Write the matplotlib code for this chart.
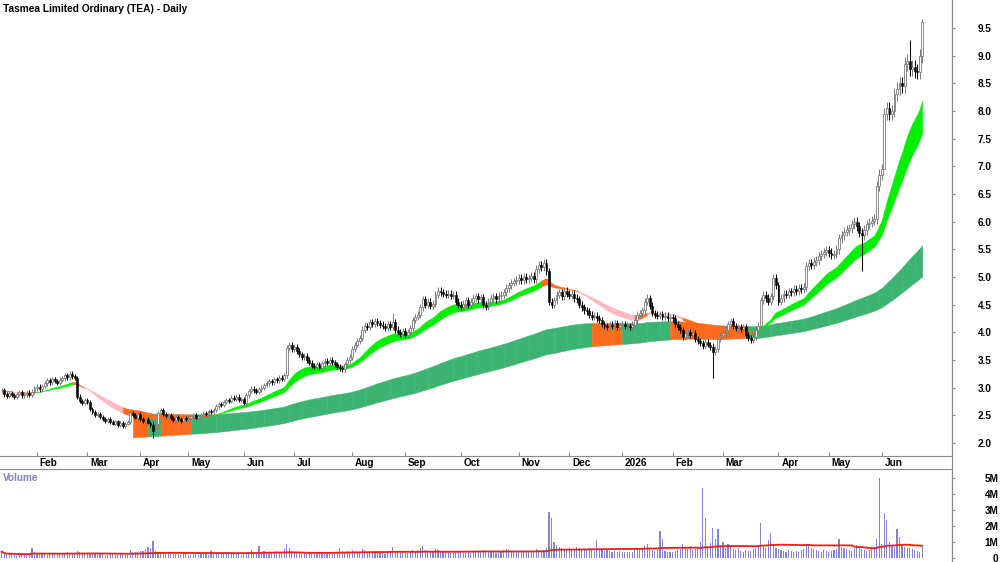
import numpy as np
import pandas as pd
import matplotlib
matplotlib.use('Agg')
import matplotlib.pyplot as plt
from matplotlib.lines import Line2D
from matplotlib.transforms import offset_copy, blended_transform_factory

plt.rcParams['font.family'] = ['Liberation Sans', 'DejaVu Sans']

TITLE = 'Tasmea Limited Ordinary (TEA) - Daily'

# daily closes, 13 Jan 2025 .. 24 Jun 2026
closes = [
    2.95, 2.88, 2.85, 2.90, 2.87, 2.84, 2.89, 2.92, 2.86, 2.88, 2.91, 2.87,
    2.93, 2.99, 3.02, 2.97, 3.03,
    3.08, 3.13, 3.10, 3.15, 3.12, 3.09, 3.14, 3.17,
    3.22, 3.19, 3.25, 3.21, 3.18,
    2.84, 2.76, 2.72, 2.78, 2.74,
    2.62, 2.56, 2.50, 2.53, 2.47,
    2.44, 2.40, 2.43, 2.38, 2.35, 2.39, 2.33, 2.36, 2.31, 2.35, 2.38,
    2.55, 2.50, 2.46, 2.52, 2.44,
    2.40, 2.43, 2.37, 2.33, 2.22,
    2.35, 2.55, 2.60, 2.52, 2.48, 2.50,
    2.45, 2.42, 2.47, 2.44, 2.40, 2.46, 2.43, 2.45,
    2.48, 2.50, 2.46, 2.49, 2.51,
    2.55, 2.53, 2.58, 2.56, 2.60,
    2.66, 2.70, 2.68, 2.74, 2.78, 2.76, 2.82,
    2.80, 2.84, 2.78, 2.80, 2.73,
    2.86, 2.94, 2.98, 2.95, 2.92, 2.97, 3.00, 3.05,
    3.08, 3.12, 3.10, 3.15, 3.13, 3.18, 3.16, 3.22,
    3.72, 3.78, 3.70, 3.74, 3.66,
    3.60, 3.55, 3.58, 3.50,
    3.45, 3.40, 3.38, 3.42, 3.36,
    3.44, 3.48, 3.45, 3.50, 3.46, 3.42, 3.38,
    3.35, 3.33, 3.42, 3.50, 3.55,
    3.70, 3.78, 3.85, 3.90,
    4.05, 4.12, 4.10, 4.18, 4.15, 4.20, 4.17, 4.14,
    4.12, 4.08, 4.15, 4.10, 4.18,
    4.05, 4.00, 3.97, 4.02, 3.96, 4.00, 4.08,
    4.22, 4.28, 4.32, 4.45, 4.60, 4.50, 4.55,
    4.48, 4.52, 4.68, 4.75, 4.72, 4.70,
    4.68, 4.70, 4.66, 4.68, 4.55, 4.50, 4.46, 4.52,
    4.58, 4.50, 4.55, 4.62, 4.65, 4.60, 4.63,
    4.50, 4.46, 4.55, 4.62, 4.65, 4.60, 4.66, 4.68, 4.72,
    4.80, 4.85, 4.90, 4.92, 4.95,
    4.98, 4.95, 5.00, 4.96, 4.98, 5.02, 4.97,
    5.15, 5.22, 5.18, 5.25, 5.10,
    4.55, 4.50, 4.58,
    4.68, 4.72, 4.65, 4.75, 4.70, 4.66, 4.70, 4.62, 4.60,
    4.50, 4.45, 4.40, 4.38, 4.32, 4.28, 4.30, 4.25, 4.22,
    4.15, 4.12, 4.10, 4.14, 4.12, 4.16, 4.10, 4.13, 4.15, 4.11, 4.12, 4.10, 4.14,
    4.22, 4.32, 4.35, 4.40, 4.55, 4.62, 4.48,
    4.35, 4.32, 4.30, 4.33, 4.28, 4.30, 4.26, 4.28, 4.25,
    4.15, 4.10, 4.05, 3.92, 3.98, 4.00, 3.95, 3.98, 3.88, 3.85,
    3.80, 3.76, 3.82, 3.78, 3.74, 3.65, 3.70,
    3.88, 3.95, 3.98, 4.05, 4.15, 4.20, 4.12,
    4.08, 4.10, 4.06, 4.09, 3.95, 3.90, 3.87, 3.92, 4.05, 4.12,
    4.58, 4.68, 4.62, 4.55, 4.65, 4.98, 4.85, 4.55,
    4.62, 4.70, 4.68, 4.74, 4.72, 4.78, 4.75, 4.80, 4.78, 4.82,
    5.20, 5.25, 5.22, 5.28, 5.30, 5.38, 5.42,
    5.45, 5.48, 5.44, 5.40, 5.42, 5.50,
    5.70, 5.75, 5.82, 5.85, 5.88, 5.95, 6.00, 5.92,
    5.80, 5.75, 5.85, 5.95, 5.98, 6.02, 6.05,
    6.65, 6.85, 6.95, 7.95, 8.05, 7.95, 8.00,
    8.30, 8.40, 8.50, 8.45, 8.85, 8.90, 8.75,
    8.80, 8.72, 8.70, 9.00, 9.60,
]

# daily volume in millions of shares
volumes = [
    0.40, 0.22, 0.18, 0.30, 0.25, 0.20, 0.15, 0.28, 0.22, 0.18,
    0.25, 0.30, 0.62, 0.35, 0.28, 0.22, 0.30, 0.25, 0.20, 0.33,
    0.27, 0.24, 0.30, 0.22, 0.26, 0.31, 0.35, 0.28, 0.24, 0.30,
    0.45, 0.38, 0.30, 0.28, 0.25, 0.32, 0.28, 0.22, 0.20, 0.26,
    0.24, 0.20, 0.18, 0.22, 0.25, 0.20, 0.18, 0.22, 0.26, 0.20,
    0.24, 0.50, 0.40, 0.35, 0.38, 0.45, 0.42, 0.55, 0.70, 0.60,
    1.05, 0.45, 0.40, 0.35, 0.30, 0.28, 0.32, 0.30, 0.25, 0.22,
    0.28, 0.20, 0.25, 0.22, 0.18, 0.20, 0.24, 0.22, 0.18, 0.25,
    0.30, 0.22, 0.20, 0.42, 0.25, 0.22, 0.30, 0.26, 0.24, 0.35,
    0.28, 0.25, 0.30, 0.22, 0.26, 0.20, 0.28, 0.30, 0.35, 0.50,
    0.32, 0.26, 0.75, 0.38, 0.45, 0.40, 0.35, 0.30, 0.38, 0.42,
    0.35, 0.32, 0.55, 0.85, 0.60, 0.45, 0.40, 0.35, 0.30, 0.28,
    0.32, 0.25, 0.30, 0.28, 0.22, 0.25, 0.30, 0.28, 0.26, 0.24,
    0.30, 0.35, 0.28, 0.32, 0.65, 0.45, 0.38, 0.42, 0.35, 0.50,
    0.45, 0.40, 0.38, 0.55, 0.48, 0.35, 0.30, 0.42, 0.38, 0.32,
    0.30, 0.35, 0.28, 0.40, 0.36, 0.70, 0.45, 0.40, 0.35, 0.38,
    0.32, 0.30, 0.36, 0.50, 0.45, 0.48, 0.62, 0.75, 0.50, 0.45,
    0.40, 0.38, 0.55, 0.48, 0.42, 0.36, 0.35, 0.30, 0.34, 0.32,
    0.38, 0.42, 0.35, 0.30, 0.33, 0.36, 0.30, 0.40, 0.45, 0.38,
    0.35, 0.48, 0.42, 0.38, 0.40, 0.35, 0.32, 0.38, 0.42, 0.50,
    0.55, 0.48, 0.45, 0.40, 0.38, 0.42, 0.36, 0.40, 0.35, 0.38,
    0.42, 0.40, 0.55, 0.50, 0.45, 0.52, 0.60, 2.90, 2.50, 1.00,
    0.80, 0.70, 0.60, 0.55, 0.50, 0.60, 0.50, 0.55, 0.70, 0.60,
    0.50, 0.55, 0.48, 0.60, 0.52, 0.45, 1.10, 0.55, 0.50, 0.45,
    0.48, 0.42, 0.40, 0.45, 0.38, 0.42, 0.35, 0.40, 0.38, 0.36,
    0.40, 0.55, 0.60, 0.50, 0.58, 0.75, 0.90, 0.55, 0.48, 0.45,
    0.50, 1.70, 1.20, 0.45, 0.40, 0.38, 0.35, 0.42, 0.50, 0.55,
    0.85, 0.60, 0.55, 0.75, 0.50, 0.55, 0.60, 1.00, 4.40, 2.50,
    0.70, 0.95, 1.90, 1.20, 1.80, 0.70, 1.00, 0.60, 0.90, 0.80,
    0.55, 0.50, 0.60, 0.45, 0.40, 0.50, 0.45, 0.42, 0.55, 0.60,
    0.75, 2.20, 0.80, 0.65, 1.10, 1.55, 0.85, 0.60, 0.55, 0.50,
    0.45, 0.40, 0.48, 0.42, 0.38, 0.45, 0.40, 0.50, 0.55, 0.80,
    0.80, 0.60, 0.55, 0.50, 0.45, 0.40, 0.48, 0.42, 0.38, 0.45,
    0.50, 0.55, 1.20, 0.70, 0.60, 0.55, 0.50, 0.45, 0.60, 0.80,
    0.70, 0.55, 0.50, 0.45, 0.48, 0.55, 0.60, 1.20, 5.00, 0.90,
    2.80, 2.40, 1.00, 0.80, 0.70, 1.80, 1.30, 0.80, 0.70, 0.65,
    0.60, 0.55, 0.50, 0.45, 0.40, 0.70,
]

# long shadows that stand out on the chart: bar index -> (high, low)
wick_overrides = {60: (2.40, 2.09), 155: (4.35, None), 216: (5.33, None),
                  282: (3.80, 3.17), 341: (None, 5.10), 350: (None, 7.30),
                  360: (9.28, None), 365: (9.66, None)}

# ASX holidays inside the window
holidays = ['2025-01-27', '2025-04-18', '2025-04-21', '2025-04-25', '2025-06-09',
            '2025-12-25', '2025-12-26', '2026-01-01', '2026-01-26', '2026-04-03',
            '2026-04-06', '2026-06-08']

# EMA ribbons: short pair from the first bar, long pair picks up where it first shows
short_spans = (20, 32)
long_spans = (140, 220)
long_first_values = (2.55, 2.10)
long_first_bar = 52

months = ['Feb', 'Mar', 'Apr', 'May', 'Jun', 'Jul', 'Aug', 'Sep', 'Oct', 'Nov', 'Dec',
          '2026', 'Feb', 'Mar', 'Apr', 'May', 'Jun']

price_ticks = np.arange(2.0, 9.51, 0.5)
vol_ticks = [0, 1, 2, 3, 4, 5]
vol_labels = ['0', '1M', '2M', '3M', '4M', '5M']

GREEN = '#00ee00'
PINK = '#ffb8bf'
ORANGE = '#ff6a1c'
LONG = '#3cb371'
VOLC = '#8484d6'
AXC = '#8a8a8a'


def ema_from(values, span, start, seed):
    a = 2.0 / (span + 1)
    out = np.full(len(values), np.nan)
    out[start] = seed
    for k in range(start + 1, len(values)):
        out[k] = out[k - 1] + a * (values[k] - out[k - 1])
    return out


n = len(closes)
days = pd.bdate_range('2025-01-13', '2026-08-31')
days = days[~days.isin(pd.to_datetime(holidays))][:n]
c = np.array(closes)
o = np.r_[c[0], c[:-1]]
x = np.arange(n)
wick = 0.014 * c
hi = np.maximum(o, c) + wick
lo = np.minimum(o, c) - wick
for k, (h, l) in wick_overrides.items():
    if h is not None:
        hi[k] = h
    if l is not None:
        lo[k] = l

fast = ema_from(c, short_spans[0], 0, c[0])
slow = ema_from(c, short_spans[1], 0, c[0])
l_hi = ema_from(c, long_spans[0], long_first_bar, long_first_values[0])
l_lo = ema_from(c, long_spans[1], long_first_bar, long_first_values[1])

fig = plt.figure(figsize=(10, 5.62), dpi=100)
ax = fig.add_axes([0, 1 - 456 / 562, 0.952, 456 / 562])
axv = fig.add_axes([0, 0, 0.952, 93 / 562])

# ribbons coloured week by week (state taken at the week's last bar)
week_id = days.to_period('W-FRI')
ends = [int(x[week_id == w][-1]) for w in week_id.unique()]
prev_end = 0
prev_slow = slow[0]
for e in ends:
    seg = np.arange(prev_end, e + 1)
    has_long = e >= long_first_bar
    if has_long:
        below = c[e] < l_hi[e]
        sl = seg[seg >= long_first_bar]
        ax.fill_between(sl, l_lo[sl], l_hi[sl], facecolor=ORANGE if below else LONG,
                        edgecolor=ORANGE if below else LONG, lw=0.3, zorder=1)
    overlap = has_long and min(fast[e], slow[e]) < l_hi[e]
    gap = abs(fast[e] - slow[e]) < 0.003 * c[e]
    if overlap or gap:
        col = ORANGE
    elif fast[e] > slow[e] and slow[e] >= prev_slow:
        col = GREEN
    elif fast[e] < slow[e] and slow[e] < prev_slow:
        col = PINK
    else:
        col = ORANGE
    ax.fill_between(seg, fast[seg], slow[seg], facecolor=col, edgecolor=col,
                    lw=0.3, zorder=2)
    prev_end = e
    prev_slow = slow[e]

# candles
up = c >= o
ax.vlines(x[up], lo[up], hi[up], color='#7a7a7a', lw=0.7, zorder=3)
ax.vlines(x[~up], lo[~up], hi[~up], color='black', lw=0.7, zorder=3)
body = np.maximum(np.abs(c - o), 0.012)
ax.bar(x[up], body[up], bottom=np.minimum(o, c)[up], width=0.75,
       facecolor='white', edgecolor='#7a7a7a', lw=0.6, zorder=4)
ax.bar(x[~up], body[~up], bottom=np.minimum(o, c)[~up], width=0.75,
       facecolor='black', edgecolor='black', lw=0.4, zorder=4)

x0, x1 = -0.674, 376.8
ax.set_xlim(x0, x1)
ax.set_ylim(1.765, 10.006)
ax.yaxis.tick_right()
ax.set_yticks(price_ticks)
ax.set_yticklabels([f'{t:.1f}' for t in price_ticks], fontweight='bold')
ax.tick_params(axis='y', direction='out', length=2.5, color=AXC, pad=16,
               labelsize=7.2, labelcolor='black')

# month ticks at the first trading day of each month
first = pd.Series(x, index=days).groupby(days.to_period('M')).min().values[1:]
ax.set_xticks(first)
ax.set_xticklabels([])
ax.tick_params(axis='x', direction='in', length=3, color=AXC)
trans = offset_copy(blended_transform_factory(ax.transData, ax.transAxes),
                    fig=fig, x=2.8, y=-7, units='dots')
for pos, lab in zip(first, months):
    ax.text(pos, 0, lab, transform=trans, ha='left', va='center',
            fontsize=7.2, fontweight='bold', clip_on=False)

for s in ['top', 'left']:
    ax.spines[s].set_visible(False)
ax.spines['right'].set_color(AXC)
ax.spines['bottom'].set_color(AXC)

fig.text(3 / 1000, 1 - 9 / 562, TITLE, fontsize=7.3, fontweight='bold',
         va='center', ha='left')

# volume panel
vol = np.array(volumes)
avg = pd.Series(vol).rolling(60, min_periods=1).mean()
axv.bar(x, vol, width=0.45, color=VOLC, zorder=2)
axv.plot(x, avg, color='#ee1c1c', lw=1.3, zorder=3)
axv.set_xlim(x0, x1)
axv.set_ylim(-0.25, 5.56)
axv.yaxis.tick_right()
axv.set_yticks(vol_ticks)
axv.set_yticklabels(vol_labels, fontweight='bold')
axv.tick_params(axis='y', direction='out', length=2.5, color=AXC, pad=31,
                labelsize=7.2)
for lbl in axv.get_yticklabels():
    lbl.set_horizontalalignment('right')
axv.set_xticks([])
for s in ['left', 'bottom']:
    axv.spines[s].set_visible(False)
axv.spines['right'].set_color(AXC)
axv.spines['top'].set_color(AXC)
axv.text(0.003, 1 - 9 / 93, 'Volume', transform=axv.transAxes, color='#8080c4',
         fontsize=7.2, fontweight='bold', va='center', ha='left')

fig.add_artist(Line2D([0.952, 0.952], [0, 1], color=AXC, lw=0.8,
                      transform=fig.transFigure))

fig.savefig('out.png', dpi=100)
